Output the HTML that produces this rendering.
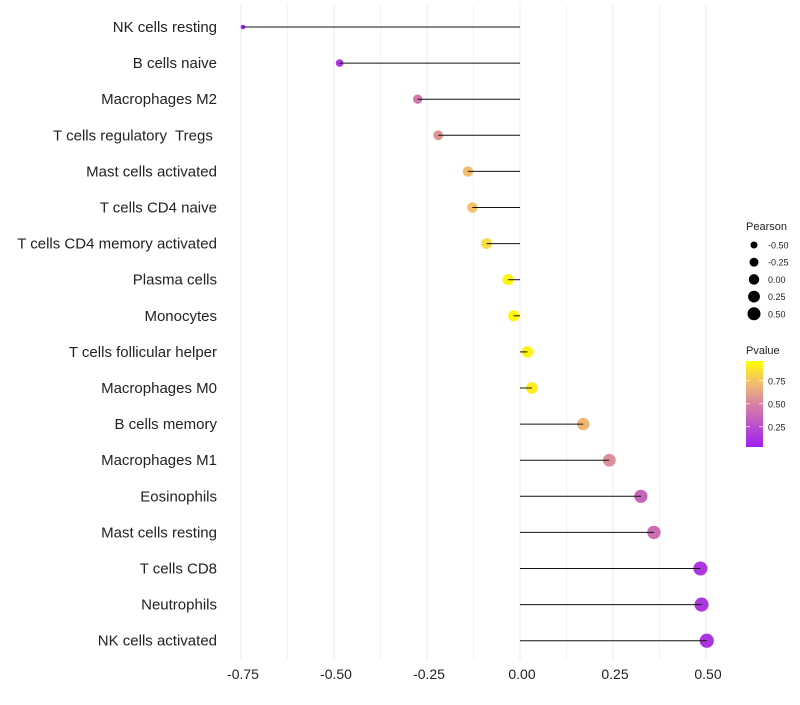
<!DOCTYPE html>
<html><head><meta charset="utf-8"><style>
body{margin:0;background:#fff;font-family:"Liberation Sans",sans-serif}
</style></head><body>
<svg id="chart" width="800" height="700" xmlns="http://www.w3.org/2000/svg"></svg>
<script>
const categories=["NK cells resting","B cells naive","Macrophages M2","T cells regulatory  Tregs ","Mast cells activated","T cells CD4 naive","T cells CD4 memory activated","Plasma cells","Monocytes","T cells follicular helper","Macrophages M0","B cells memory","Macrophages M1","Eosinophils","Mast cells resting","T cells CD8","Neutrophils","NK cells activated"];
const pearson=[-0.745,-0.485,-0.275,-0.22,-0.14,-0.128,-0.09,-0.032,-0.017,0.02,0.032,0.17,0.24,0.325,0.36,0.485,0.488,0.502];
const pvalue=[0.02,0.12,0.45,0.58,0.75,0.76,0.86,0.97,0.97,0.95,0.93,0.72,0.55,0.35,0.4,0.12,0.12,0.1];
const xTicks=[-0.75,-0.5,-0.25,0,0.25,0.5];
const xTickLabels=["-0.75","-0.50","-0.25","0.00","0.25","0.50"];
const sizeLegend=[-0.5,-0.25,0,0.25,0.5];
const sizeLegendLabels=["-0.50","-0.25","0.00","0.25","0.50"];
const colorTicks=[0.25,0.5,0.75];

const svg=document.getElementById('chart');
const NS="http://www.w3.org/2000/svg";
const x=v=>520+v*372;
const y=i=>27+i*36.1;
const r=v=>Math.sqrt(Math.max(3,32+36*v));
const stops=[[0,[160,32,240]],[0.5,[215,130,165]],[0.75,[242,190,110]],[1,[255,255,0]]];
function col(p){for(let k=0;k<stops.length-1;k++){const [a,ca]=stops[k],[b,cb]=stops[k+1];
 if(p<=b){const t=(p-a)/(b-a);return `rgb(${ca.map((c,i)=>Math.round(c+(cb[i]-c)*t))})`;}}return 'rgb(255,255,0)';}
function el(t,a,p){const e=document.createElementNS(NS,t);for(const k in a)e.setAttribute(k,a[k]);(p||svg).appendChild(e);return e;}
function txt(s,a){const e=el('text',a);e.textContent=s;return e;}

for(let k=0;k<=10;k++){
 const v=-0.75+k*0.125;
 const g=el('line',{x1:x(v),x2:x(v),y1:5,y2:660,stroke:'#ebebeb','stroke-width':k%2===0?1:0.6});
 
}
xTicks.forEach((v,i)=>{
 const t=txt(xTickLabels[i],{x:x(v)+2,y:679,'text-anchor':'middle','font-size':14,fill:'#222'});
 
});
categories.forEach((c,i)=>{
 const t=txt(c,{x:217,y:y(i)+5,'text-anchor':'end','font-size':15,fill:'#222',style:'white-space:pre'});
 
});
categories.forEach((c,i)=>{
 const p=el('circle',{cx:x(pearson[i]),cy:y(i),r:r(pearson[i]),fill:col(pvalue[i])});
 
});
categories.forEach((c,i)=>{
 const l=el('line',{x1:x(0),x2:x(pearson[i]),y1:y(i),y2:y(i),stroke:'#111','stroke-width':1});
 
});
const lt=txt('Pearson',{x:746,y:230,'font-size':11,fill:'#222'});

sizeLegend.forEach((v,i)=>{
 const cy=245+i*17.2;
 const c=el('circle',{cx:754,cy:cy,r:Math.sqrt(27.25+30*v),fill:'#000'});
 
 const t=txt(sizeLegendLabels[i],{x:768,y:cy+3.5,'font-size':9,fill:'#222'});
 
});
const ct=txt('Pvalue',{x:746,y:354,'font-size':11,fill:'#222'});

const defs=el('defs',{});
const gr=el('linearGradient',{id:'pg',x1:0,y1:1,x2:0,y2:0},defs);
stops.forEach(s=>el('stop',{offset:s[0],style:`stop-color:rgb(${s[1]})`},gr));
const bar=el('rect',{x:746,y:361,width:17,height:86,fill:'url(#pg)'});

const cb=p=>447-(p-0.03)*92;
colorTicks.forEach(p=>{
 const t=txt(p.toFixed(2),{x:768,y:cb(p)+3.5,'font-size':9,fill:'#222'});
 
 el('line',{x1:746,x2:750,y1:cb(p),y2:cb(p),stroke:'#fff','stroke-width':0.7});
 el('line',{x1:759,x2:763,y1:cb(p),y2:cb(p),stroke:'#fff','stroke-width':0.7});
});
</script>
</body></html>
